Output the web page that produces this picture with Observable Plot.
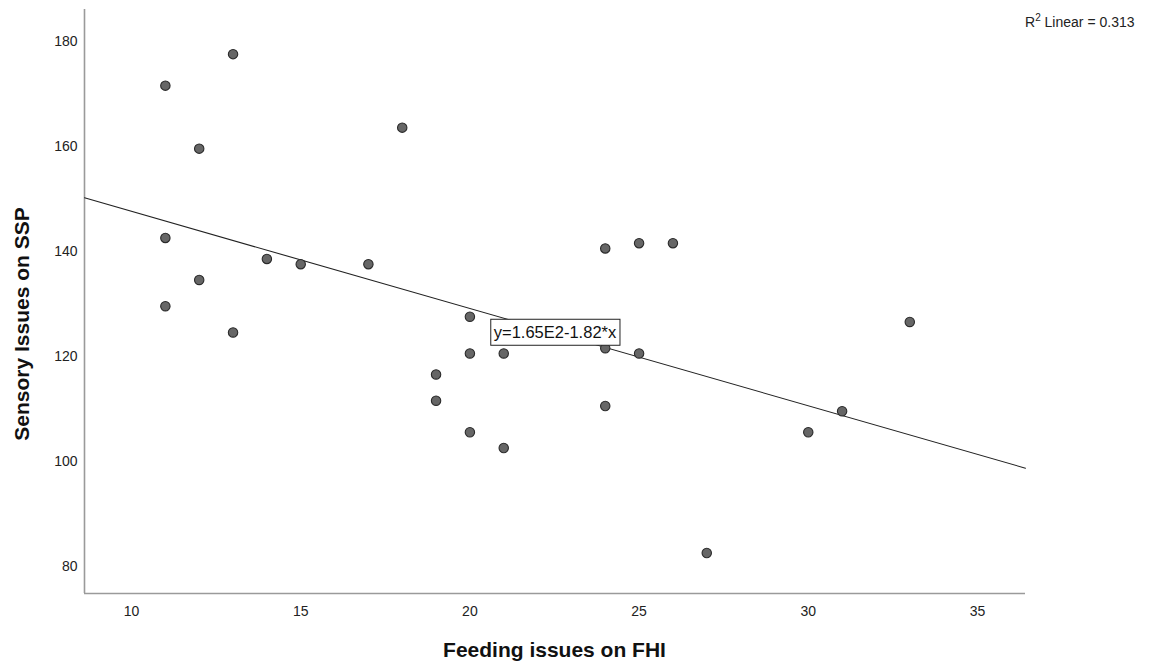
<!DOCTYPE html>
<html>
<head>
<meta charset="utf-8">
<script src="https://cdn.jsdelivr.net/npm/d3@7"></script>
<script src="https://cdn.jsdelivr.net/npm/@observablehq/plot@0.6"></script>
<style>
  html, body { margin: 0; padding: 0; background: #fff; }
  #chart svg { display: block; }
</style>
</head>
<body>
<div id="chart"></div>
<script>
// Data
const feeding = [11, 13, 12, 18, 11, 11, 12, 13, 14, 15, 17, 20, 20, 21, 19, 19, 20, 21, 24, 25, 26, 24, 25, 24, 27, 30, 31, 33];
const sensory = [171, 177, 159, 163, 142, 129, 134, 124, 138, 137, 137, 127, 120, 120, 116, 111, 105, 102, 140, 141, 141, 121, 120, 110, 82, 105, 109, 126];
const xTicks = [10, 15, 20, 25, 30, 35];
const yTicks = [80, 100, 120, 140, 160, 180];
const xDomain = [8.61, 36.42];
const yDomain = [74.29, 185.5];
const fitLabel = "y=1.65E2-1.82*x";
const r2Label = "0.313";

const points = feeding.map((x, i) => ({x, y: sensory[i]}));

// least squares fit
const mx = d3.mean(feeding), my = d3.mean(sensory);
const slope = d3.sum(points, d => (d.x - mx) * (d.y - my)) / d3.sum(points, d => (d.x - mx) ** 2);
const intercept = my - slope * mx;
const fitLine = xDomain.map(x => ({x, y: intercept + slope * x}));
const midX = (xDomain[0] + xDomain[1]) / 2;
const labelPt = [{x: midX, y: intercept + slope * midX}];

const W = 1155, H = 663;
const mL = 84, mR = 130, mT = 9, mB = 70;
const FONT = "'Liberation Sans', Arial, sans-serif";

const plot = Plot.plot({
  width: W,
  height: H,
  marginLeft: mL,
  marginRight: mR,
  marginTop: mT,
  marginBottom: mB,
  style: {fontFamily: FONT, fontSize: "14px", color: "#222", background: "#fff"},
  x: {domain: xDomain},
  y: {domain: yDomain},
  marks: [
    Plot.axisX({ticks: xTicks, tickSize: 0, tickPadding: 13, label: null}),
    Plot.axisY({ticks: yTicks, tickSize: 0, tickPadding: 7, dy: 2.7, label: null}),
    Plot.ruleX([xDomain[0]], {stroke: "#9a9a9a", strokeWidth: 1.6}),
    Plot.ruleY([yDomain[0]], {stroke: "#9a9a9a", strokeWidth: 1.6}),
    Plot.line(fitLine, {x: "x", y: "y", stroke: "#222", strokeWidth: 1.1}),
    Plot.dot(points, {x: "x", y: "y", r: 4.7, fill: "#666", stroke: "#2a2a2a", strokeWidth: 1.1}),
    Plot.text(labelPt, {x: "x", y: "y", text: () => fitLabel, fontSize: 16.5, fill: "#111", className: "fitlabel"})
  ]
});

document.getElementById("chart").appendChild(plot);

const svg = d3.select(plot);
// box around the fit label
const t = svg.select(".fitlabel text");
if (!t.empty()) {
  const node = t.node();
  const b = node.getBBox();
  const g = d3.select(node.parentNode);
  g.insert("rect", "text")
    .attr("transform", node.getAttribute("transform"))
    .attr("x", b.x - 3).attr("y", b.y - 4)
    .attr("width", b.width + 6).attr("height", b.height + 8)
    .attr("fill", "#fff").attr("stroke", "#222").attr("stroke-width", 1);
}

// axis titles
svg.append("text")
  .attr("x", mL + (W - mL - mR) / 2).attr("y", 657)
  .attr("text-anchor", "middle")
  .attr("font-family", FONT)
  .attr("font-size", 21).attr("font-weight", "bold").attr("fill", "#111")
  .text("Feeding issues on FHI");

svg.append("text")
  .attr("transform", "translate(29,324) rotate(-90)")
  .attr("text-anchor", "middle")
  .attr("font-family", FONT)
  .attr("font-size", 21).attr("font-weight", "bold").attr("fill", "#111")
  .text("Sensory Issues on SSP");

// R² annotation
const r2 = svg.append("text")
  .attr("x", 1025).attr("y", 27)
  .attr("text-anchor", "start")
  .attr("font-family", FONT)
  .attr("font-size", 14).attr("fill", "#222");
r2.append("tspan").text("R");
r2.append("tspan").attr("dy", -6).attr("font-size", 10).text("2");
r2.append("tspan").attr("dy", 6).text(" Linear = " + r2Label);
</script>
</body>
</html>
